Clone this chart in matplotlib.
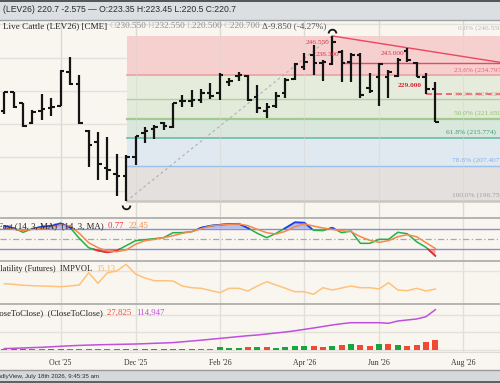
import numpy as np
import matplotlib
matplotlib.use("Agg")
import matplotlib.pyplot as plt
from matplotlib.path import Path
from matplotlib.patches import Rectangle
from matplotlib.lines import Line2D
import matplotlib.transforms as mtransforms

# ---------------- data ----------------
# weekly bars, index 0 = week of 1 Dec 2025
week_idx = list(range(-14, 33))
opens = [224.05, 229.59, 226.28, 220.26, 224.05, 224.77, 225.56, 235.61, 232.09, 218.03,
         214.72, 206.71, 204.91, 204.39, 210.02, 217.34, 218.54, 220.26, 219.23, 226.97,
         226.82, 227.27, 229.47, 229.29, 232.78, 234.35, 234.50, 228.17, 223.96, 225.47,
         229.29, 233.59, 237.21, 240.82, 238.32, 238.11, 241.81, 238.80, 240.82, 230.88,
         234.29, 234.19, 234.50, 242.11, 238.50, 234.19, 230.55]
highs = [229.77, 229.77, 226.46, 224.25, 228.99, 227.78, 236.30, 240.22, 234.80, 218.24,
         217.73, 216.04, 210.93, 210.72, 216.44, 219.23, 219.75, 220.74, 226.46, 228.78,
         230.28, 230.49, 232.48, 235.40, 233.80, 235.79, 234.80, 231.79, 226.37, 229.77,
         233.80, 238.32, 241.33, 243.82, 239.31, 246.55, 242.32, 241.33, 241.33, 235.31,
         238.32, 236.30, 239.82, 243.00, 238.80, 235.31, 232.55]
lows = [223.06, 224.77, 219.05, 220.05, 221.25, 222.46, 225.32, 231.79, 220.05, 207.19,
        203.19, 203.19, 198.37, 196.75, 207.71, 214.24, 215.44, 218.24, 218.75, 225.26,
        225.26, 226.46, 227.48, 227.27, 231.49, 233.08, 227.06, 223.36, 221.76, 224.77,
        227.78, 233.29, 236.30, 234.80, 233.08, 237.81, 232.78, 232.78, 227.78, 229.29,
        225.47, 227.78, 234.29, 238.80, 234.29, 229.00, 220.50]
closes = [229.59, 225.07, 219.45, 223.75, 224.47, 225.26, 236.09, 232.09, 220.35, 213.73,
          208.01, 206.20, 204.49, 210.20, 216.29, 217.94, 218.99, 219.45, 226.28, 226.82,
          227.12, 229.47, 228.48, 234.80, 232.99, 234.65, 227.27, 224.86, 225.16, 228.48,
          233.29, 238.11, 238.71, 238.41, 238.71, 244.82, 238.32, 240.82, 228.78, 230.07,
          238.11, 235.70, 239.31, 239.31, 234.29, 230.59, 220.70]

stoch_k = [88, 82, 69.5, 80, 86, 88, 95.7, 84, 52, 24.6, 16, 11, 15.9, 30.5, 45, 48, 51, 53.8,
           68.3, 68.6, 71.3, 83, 88.8, 91.7, 93.7, 94.6, 82, 66.6, 53.8, 66.6, 82, 98.6, 97.7,
           75.3, 74.4, 83, 68.3, 73.3, 37.4, 37.4, 49, 49, 69.5, 65.4, 42, 25.8, 0.77]
stoch_d = [84, 78.2, 74.4, 78.2, 81, 84, 90.8, 87.9, 66.6, 39.2, 24.6, 15, 13, 17.9, 34.5, 45,
           49, 53.8, 59.6, 66.6, 71.3, 80, 87.9, 90.8, 92.7, 93.7, 88.8, 78.2, 68.3, 64.5, 72.4,
           85.8, 93.7, 87.9, 82, 78.2, 74.2, 71.3, 56.7, 46.2, 40.3, 45.2, 56.7, 62.5, 56.7,
           39.2, 22.45]
impvol = [17.98, 17.66, 17.12, 16.90, 16.74, 16.58, 16.37, 16.74, 17.28, 23.89, 18.19, 23.89,
          24.81, 28.41, 23.19, 21.04, 19.59, 19.59, 19.43, 16.74, 15.83, 15.51, 14.32, 13.14,
          15.51, 15.51, 14.05, 16.74, 19.05, 17.28, 15.51, 13.68, 13.68, 12.28, 15.83, 14.59,
          15.67, 16.74, 15.83, 15.83, 15.13, 18.52, 14.59, 14.22, 15.51, 14.05, 15.13]
volume = [1200, 1000, 1100, 900, 1200, 1300, 2200, 2400, 2300, 2500, 2600, 2400, 2700, 2800,
          2600, 2900, 3000, 2800, 3100, 2900, 3000, 3300, 3200, 7760, 4900, 4900, 6900, 6900,
          6900, 4020, 6900, 9770, 9770, 10630, 6900, 9770, 12650, 16380, 13510, 9770, 16380,
          16380, 12650, 9770, 12650, 22990, 27825]
vol_up = [0, 1, 1, 0, 0, 1, 1, 0, 0, 0, 0, 0, 0, 1, 1, 1, 1, 1, 1, 1, 1, 0, 0, 1, 1, 1, 0, 1,
          0, 1, 1, 1, 1, 0, 0, 1, 0, 1, 0, 0, 1, 0, 1, 0, 0, 0, 0]
open_interest = [3160, 4020, 4890, 6040, 6900, 8330, 9770, 11210, 12360, 13220, 14080, 14660,
                 15230, 15810, 16380, 17240, 18390, 19260, 20410, 22700, 25000, 27300, 29890,
                 32480, 35060, 37650, 40240, 42250, 45120, 48000, 50870, 54320, 58340, 62370,
                 66680, 70990, 74720, 77600, 77600, 77600, 77600, 75870, 82480, 85360, 88230,
                 94840, 114947]

tick_idx = [-8, 0, 9, 18, 26, 35]
tick_labels = ["Oct '25", "Dec '25", "Feb '26", "Apr '26", "Jun '26", "Aug '26"]
fib_ratios = [0.0, 0.236, 0.382, 0.5, 0.618, 0.786, 1.0]

# ---------------- figure ----------------
W, H = 500, 383
BG = "#f9f6f0"
SERIF = ["Liberation Serif", "DejaVu Serif"]
SANS = ["Liberation Sans", "DejaVu Sans"]
fig = plt.figure(figsize=(W / 100, H / 100), dpi=100)
fig.patch.set_facecolor(BG)

x = np.array(week_idx, dtype=float)
PX = 9.37          # pixels per bar
X0 = 135.5         # pixel of index 0
xlim = (-X0 / PX, (W - X0) / PX)


def px2x(px):
    return (px - X0) / PX


def add_ax(y0, y1, ylim):
    ax = fig.add_axes([0, 1 - y1 / H, 1, (y1 - y0) / H])
    ax.set_facecolor("none")
    ax.set_xlim(*xlim)
    ax.set_ylim(*ylim)
    for s in ax.spines.values():
        s.set_visible(False)
    ax.set_xticks([])
    ax.set_yticks([])
    for t in tick_idx:
        ax.axvline(t, color="#e2dfda", lw=1.0, zorder=0)
    return ax


# ---------- price panel ----------
axp = add_ax(20, 217.5, (191.89, 251.35))
for lv in range(200, 251, 10):
    axp.axhline(lv, color="#e4e1dc", lw=1.0, zorder=0)

hi_i = int(np.argmax(highs))
lo_i = int(np.argmin(lows))
hi, lo = highs[hi_i], lows[lo_i]
levels = [hi - r * (hi - lo) for r in fib_ratios]
zone_cols = ["#f5d0cf", "#e6ecdc", "#e2eada", "#d9e7dd", "#e0e8f0", "#e3e0dd"]
line_cols = ["#f0b0b0", "#eaa2a2", "#b0d0a0", "#a2cc8e", "#6cbca6", "#9cc0ea", "#c8c6c4"]
line_w = [0.8, 1.2, 1.0, 1.6, 1.2, 1.0, 1.8]
xs0 = x[lo_i] + 0.06
for k in range(6):
    axp.fill_between([xs0, xlim[1]], levels[k + 1], levels[k], color=zone_cols[k], lw=0, zorder=1)
for k in range(1, 7):
    axp.plot([xs0, xlim[1]], [levels[k]] * 2, color=line_cols[k], lw=line_w[k], zorder=2)
for t in tick_idx:
    axp.axvline(t, color="#d8d5d0", lw=0.8, alpha=0.5, zorder=2)

fib_txt_cols = ["#b8b8b8", "#e8606e", "#e0a890", "#8cbf6a", "#3d9a82", "#80b0e6", "#a0a0a0"]
fib_txt_x = [458, 454, 454, 454, 446, 452, 452]
fib_txt_dy = [8, 4.5, 5.5, 5.8, 5.6, 6.0, 5.8]
bl = mtransforms.blended_transform_factory(axp.transAxes, axp.transData)
for k, r in enumerate(fib_ratios):
    tr = mtransforms.offset_copy(bl, fig=fig, y=fib_txt_dy[k], units="dots")
    axp.text(fib_txt_x[k] / W, levels[k], f"{r * 100:.1f}% ({levels[k]:.3f})", transform=tr,
             color=fib_txt_cols[k], fontsize=5.3, family=SERIF, va="center", ha="left", zorder=6)

# diagonal fib anchor line
axp.plot([x[lo_i], x[hi_i]], [lo, hi], color="#b0b0b0", lw=0.8, ls=(0, (2.5, 2.5)), zorder=3)

# red trendline through highs
t2 = 29 - week_idx[0]
slope = (highs[t2] - hi) / (x[t2] - x[hi_i])
axp.plot([x[hi_i], xlim[1]], [hi, hi + slope * (xlim[1] - x[hi_i])], color="#ec4660", lw=1.0, zorder=4)
axp.plot([22, xlim[1]], [238.30, 238.30], color="#ec4660", lw=1.0, zorder=4)
axp.plot([31, xlim[1]], [229.00, 229.00], color="#ec4660", lw=1.1, ls=(0, (4, 2.5)), zorder=4)

red = "#e8334a"
axp.text(px2x(329), 244.43, "246.550", color=red, fontsize=5.3, family=SERIF, ha="right", va="center", zorder=6)
axp.text(px2x(339), 241.03, "238.300", color=red, fontsize=5.3, family=SERIF, ha="right", va="center", zorder=6)
axp.text(px2x(404), 241.12, "243.000", color=red, fontsize=5.3, family=SERIF, ha="right", va="center", zorder=6)
axp.text(px2x(422), 231.48, "229.000", color="#d81f33", fontsize=5.3, family=SERIF, ha="right",
         va="center", fontweight="bold", zorder=6)

# OHLC bars
bc = "#141414"
tk = 0.38
axp.vlines(x, lows, highs, color=bc, lw=1.6, zorder=5, capstyle="butt")
axp.hlines(opens, x - tk, x, color=bc, lw=1.5, zorder=5)
axp.hlines(closes, x, x + tk, color=bc, lw=1.5, zorder=5)

# swing markers
arc_top = Path.arc(0, 180)
arc_bot = Path.arc(180, 360)
tr_up = mtransforms.offset_copy(axp.transData, fig=fig, y=3, units="dots")
tr_dn = mtransforms.offset_copy(axp.transData, fig=fig, y=-3.5, units="dots")
axp.plot([x[hi_i]], [hi], marker=arc_top, ms=5.5, mfc="none", mec=bc, mew=1.3, transform=tr_up, zorder=6)
axp.plot([x[lo_i]], [lo], marker=arc_bot, ms=5.5, mfc="none", mec=bc, mew=1.3, transform=tr_dn, zorder=6)

# ---------- stochastic panel ----------
axs = add_ax(217.5, 260.5, (-12.65, 112.65))
axs.axhline(80, color="#8c8cd0", lw=1.0, zorder=1)
axs.axhline(20, color="#8c8cd0", lw=1.0, zorder=1)
axs.axhline(50, color="#a4a4cc", lw=0.9, ls=(0, (5, 2, 1, 2)), zorder=1)
xd = np.linspace(x[0], x[-1], 3000)
kd = np.interp(xd, x, stoch_k)
axs.fill_between(xd, kd, 80, where=kd >= 80, interpolate=True, color="#7f8ff0", alpha=0.55, lw=0, zorder=2)
axs.fill_between(xd, kd, 20, where=kd <= 20, interpolate=True, color="#ff5a6e", alpha=0.55, lw=0, zorder=2)
axs.plot(x, stoch_k, color="#22b048", lw=1.1, zorder=3)
axs.plot(xd, np.ma.masked_where(kd < 80, kd), color="#1c3cff", lw=1.2, zorder=4)
axs.plot(xd, np.ma.masked_where(kd > 20, kd), color="#ff1c40", lw=1.2, zorder=4)
axs.plot(x, stoch_d, color="#f5894a", lw=1.1, zorder=5)

# ---------- implied vol panel ----------
axv = add_ax(260.5, 304, (7.07, 30.45))
axv.axhline(25, color="#e6e3de", lw=1.0, zorder=0)
axv.plot(x, impvol, color="#ffc27a", lw=1.1, zorder=3)

# ---------- volume / OI panel ----------
axo = add_ax(304, 351.5, (-5170, 131340))
for lv in (0, 50000, 100000):
    axo.axhline(lv, color="#e4e1dc", lw=1.0, zorder=0)
vcols = ["#16a640" if u else "#f04a36" for u in vol_up]
axo.bar(x, volume, width=0.64, color=vcols, lw=0, zorder=2)
axo.plot(x, open_interest, color="#c04fdc", lw=1.1, zorder=3)
axo.set_xticks(tick_idx)
axo.set_xticklabels(tick_labels, family=SERIF, fontsize=5.6, color="#333333")
axo.tick_params(axis="x", length=0, pad=5.2)

# ---------- separators & chrome ----------
def hline_px(y, color, lw):
    fig.add_artist(Line2D([0, 1], [1 - y / H] * 2, transform=fig.transFigure, color=color, lw=lw))


fig.add_artist(Rectangle((0, 1 - 19.5 / H), 1, 19.5 / H, transform=fig.transFigure,
                         facecolor="#dcdfe2", edgecolor="none"))
hline_px(0.5, "#3a3d40", 1.2)
hline_px(19.5, "#9fa2a6", 1.0)
hline_px(217.5, "#b4b4b4", 1.4)
hline_px(260.5, "#b4b4b4", 1.4)
hline_px(304.0, "#b4b4b4", 1.4)
hline_px(351.5, "#dedbd6", 0.8)
fig.add_artist(Rectangle((0, 0), 1, 13 / H, transform=fig.transFigure,
                         facecolor="#d6d9dc", edgecolor="none"))
hline_px(370, "#9a9a9a", 1.0)
hline_px(382.3, "#4a4a4a", 1.2)

renderer = fig.canvas.get_renderer()


def pieces(x_px, y_px, parts, size, family):
    xp = x_px
    for s, c in parts:
        t = fig.text(xp / W, 1 - y_px / H, s, color=c, fontsize=size, family=family,
                     ha="left", va="center")
        xp += t.get_window_extent(renderer).width


pieces(3, 10, [("(LEV26) 220.7 -2.575 \u2014 O:223.35 H:223.45 L:220.5 C:220.7", "#2a2d30")], 6.2, SANS)

lg, lv_ = "#c4c4c4", "#8c8c8c"
o, h, l, c = opens[-1], highs[-1], lows[-1], closes[-1]
chg = c - o
pieces(3, 26.5, [("Live Cattle (LEV26) [CME] ", "#222222"),
                 ("O", lg), (f"{o:.3f} ", lv_), ("H", lg), (f"{h:.3f} ", lv_),
                 ("L", lg), (f"{l:.3f} ", lv_), ("C", lg), (f"{c:.3f} ", lv_),
                 (f"\u0394{chg:.3f} ({chg / o * 100:.2f}%)", "#555555")], 6.6, SERIF)

pieces(-2, 225.7, [("Fast (14, 3, MA)  (14, 3, MA)  ", "#222222"),
                   (f"{stoch_k[-1]:.2f}  ", "#ff2040"), (f"{stoch_d[-1]:.2f}", "#f5894a")], 6.3, SERIF)
pieces(-9, 269, [("Volatility (Futures)  IMPVOL  ", "#222222"), (f"{impvol[-1]:.2f}", "#ffb050")], 6.0, SERIF)
pieces(-12, 312.7, [("(CloseToClose)  (CloseToClose)  ", "#222222"),
                    (f"{volume[-1]:,}  ", "#f04a36"), (f"{open_interest[-1]:,}", "#c04fdc")], 6.3, SERIF)
pieces(-13, 376.5, [("FriendlyView, July 18th 2026, 9:45:35 am", "#2a2a2a")], 4.4, SANS)

fig.savefig("out.png", dpi=100, facecolor=BG)
